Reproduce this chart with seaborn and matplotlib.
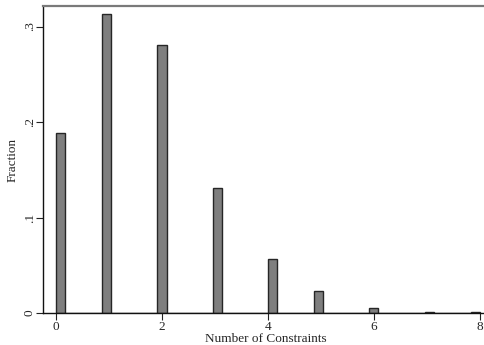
import numpy as np
import pandas as pd
import matplotlib
matplotlib.use("Agg")
import matplotlib.pyplot as plt
import seaborn as sns

# Share of observations by number of constraints
constraints = [0, 1, 2, 3, 4, 5, 6, 7, 8]
fraction = [0.188, 0.3128, 0.2806, 0.1312, 0.0569, 0.023, 0.0049, 0.0012, 0.0012]
x_ticks = [0, 2, 4, 6, 8]
y_ticks = [0, 0.1, 0.2, 0.3]
y_tick_labels = ["0", ".1", ".2", ".3"]
n_bins = 46

sns.set_style("ticks")
plt.rcParams["font.family"] = ["Liberation Serif", "DejaVu Serif"]

df = pd.DataFrame({"constraints": constraints, "fraction": fraction})

fig = plt.figure(figsize=(4.84, 3.45), dpi=100)
ax = fig.add_axes([43.3 / 484, 32 / 345, (483.5 - 43.3) / 484, (313 - 6) / 345])

sns.histplot(
    data=df, x="constraints", weights="fraction",
    binwidth=8 / n_bins, binrange=(0, 8), stat="count",
    color="#7f7f7f", alpha=1.0, edgecolor="#262626", linewidth=1.0,
    ax=ax,
)

ax.set_xlim(-0.24, 8.07)
ax.set_ylim(0, 0.3215)
ax.set_xticks(x_ticks)
ax.set_yticks(y_ticks)
ax.set_yticklabels(y_tick_labels, rotation=90, va="center")
ax.tick_params(axis="both", labelsize=9.5, length=5, width=0.8, color="#222222")
ax.tick_params(axis="x", pad=1)
ax.tick_params(axis="y", pad=0.5)

ax.set_xlabel("Number of Constraints", fontsize=9.5)
ax.set_ylabel("Fraction", fontsize=9.5)
ax.xaxis.set_label_coords(0.505, -0.084)
ax.yaxis.set_label_coords(-0.069, 0.5)
ax.xaxis.label.set_va("center")
ax.yaxis.label.set_va("center")

for side in ["left", "bottom"]:
    ax.spines[side].set_color("#111111")
    ax.spines[side].set_linewidth(1.0)
ax.spines["top"].set_visible(True)
ax.spines["top"].set_color("#7a7a7a")
ax.spines["top"].set_linewidth(1.6)
ax.spines["right"].set_visible(False)

fig.savefig("out.png", dpi=100)
